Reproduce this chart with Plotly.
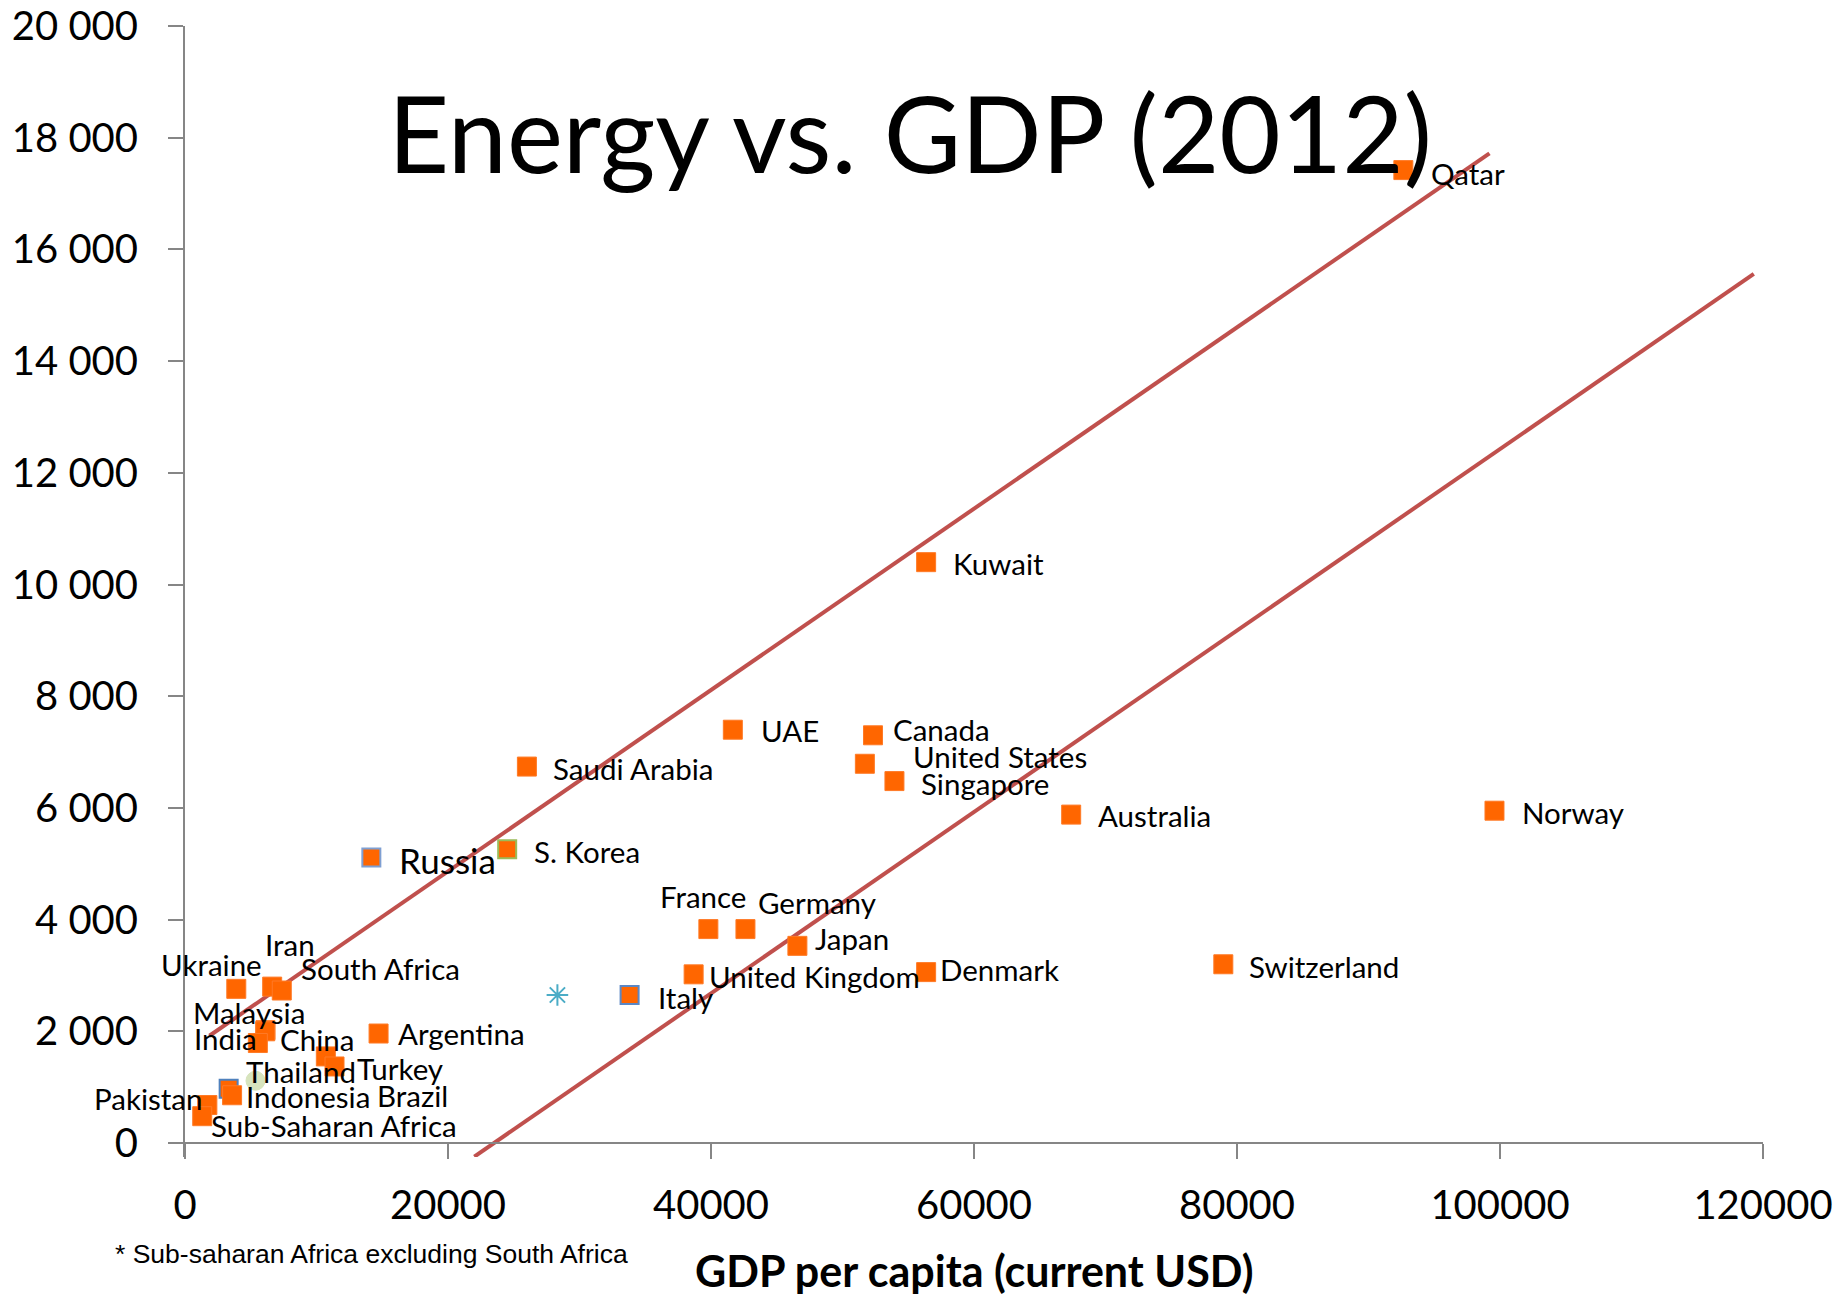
import plotly.graph_objects as go

# ---------------- data ----------------
countries = ["Qatar", "Kuwait", "UAE", "Canada", "United States", "Singapore",
             "Saudi Arabia", "Australia", "Norway", "Russia", "S. Korea",
             "France", "Germany", "Japan", "United Kingdom", "Denmark",
             "Switzerland", "Italy", "Ukraine", "Iran", "South Africa",
             "Malaysia", "China", "India", "Argentina", "Turkey", "Brazil",
             "Thailand", "Indonesia", "Pakistan", "Sub-Saharan Africa"]
gdp_per_capita = [92650, 56360, 41660, 52320, 51700, 53950,
                  26000, 67390, 99580, 14170, 24500,
                  39800, 42620, 46570, 38680, 56360,
                  78960, 33810, 3900, 6630, 7360,
                  6120, 6100, 5540, 14720, 10710, 11370,
                  5360, 3580, 1700, 1310]
energy_per_capita = [17420, 10400, 7400, 7300, 6790, 6480,
                     6740, 5880, 5950, 5110, 5260,
                     3830, 3830, 3530, 3020, 3060,
                     3200, 2650, 2760, 2800, 2730,
                     2020, 2000, 1790, 1960, 1550, 1370,
                     1115, 855, 680, 480]

# unlabeled extra series
other_gdp = [3320]
other_energy = [970]
avg_gdp = [28320]
avg_energy = [2650]

# trend lines
upper_x = [1860, 99200]
upper_y = [1920, 17720]
lower_x = [22000, 119300]
lower_y = [-245, 15560]

x_ticks = [0, 20000, 40000, 60000, 80000, 100000, 120000]
y_ticks = [0, 2000, 4000, 6000, 8000, 10000, 12000, 14000, 16000, 18000, 20000]

title_text = "Energy vs. GDP (2012)"
x_title = "GDP per capita (current USD)"
footnote = "* Sub-saharan Africa excluding South Africa"

# ---------------- styles ----------------
ORANGE = "#FF6600"
LINE_RED = "#C0504D"
AXIS_GREY = "#868686"
FONT = "Lato"

border_colors = {"Russia": "#7F9FD2", "Italy": "#5B87C4", "S. Korea": "#9BBB59"}
special_symbol = {"Thailand": ("circle", "#D7E4BD", "#D7E4BD")}

# label offsets (pixels from marker centre to label left / middle; +dy = down)
label_offsets = {
    "Qatar": (27, 3), "Kuwait": (26, 1), "UAE": (27, 1), "Canada": (19, -6),
    "United States": (47, -7), "Singapore": (26, 2), "Saudi Arabia": (25, 2),
    "Australia": (26, 1), "Norway": (27, 2), "Russia": (27, 2),
    "S. Korea": (26, 2), "France": (-49, -33), "Germany": (12, -27),
    "Japan": (17, -7), "United Kingdom": (14, 2), "Denmark": (13, -3),
    "Switzerland": (25, 2), "Italy": (27, 2), "Ukraine": (-76, -24),
    "Iran": (-8, -42), "South Africa": (18, -22), "Malaysia": (-73, -18),
    "China": (14, 8), "India": (-65, -5), "Argentina": (18, 0),
    "Turkey": (30, 12), "Brazil": (41, 29), "Thailand": (-10, -9),
    "Indonesia": (13, 1), "Pakistan": (-114, -7), "Sub-Saharan Africa": (8, 9),
}
label_sizes = {"Russia": 35}

fig = go.Figure()

# trend lines
fig.add_trace(go.Scatter(x=upper_x, y=upper_y, mode="lines",
                         line=dict(color=LINE_RED, width=4),
                         hoverinfo="skip", showlegend=False))
fig.add_trace(go.Scatter(x=lower_x, y=lower_y, mode="lines",
                         line=dict(color=LINE_RED, width=4),
                         hoverinfo="skip", showlegend=False))

# unlabeled blue-bordered square (beneath Indonesia)
fig.add_trace(go.Scatter(x=other_gdp, y=other_energy, mode="markers",
                         marker=dict(symbol="square", size=18, color=ORANGE, opacity=1,
                                     line=dict(color="#4F81BD", width=2)),
                         showlegend=False, cliponaxis=False))
# asterisk marker
fig.add_trace(go.Scatter(x=avg_gdp, y=avg_energy, mode="markers",
                         marker=dict(symbol="asterisk-open", size=18, color="#4BACC6", opacity=1,
                                     line=dict(color="#4BACC6", width=2)),
                         showlegend=False))

symbols, fills, lcols, lwids, sizes = [], [], [], [], []
for c in countries:
    if c in special_symbol:
        s, f, l = special_symbol[c]
        symbols.append(s); fills.append(f); lcols.append(l); lwids.append(1); sizes.append(19)
    elif c in border_colors:
        symbols.append("square"); fills.append(ORANGE); lcols.append(border_colors[c]); lwids.append(2); sizes.append(18)
    else:
        symbols.append("square"); fills.append(ORANGE); lcols.append("#FF7A26"); lwids.append(1); sizes.append(19)

# draw Thailand first (under others)
order = sorted(range(len(countries)), key=lambda i: 0 if countries[i] == "Thailand" else 1)
fig.add_trace(go.Scatter(
    x=[gdp_per_capita[i] for i in order],
    y=[energy_per_capita[i] for i in order],
    mode="markers",
    marker=dict(symbol=[symbols[i] for i in order], size=[sizes[i] for i in order],
                color=[fills[i] for i in order], opacity=1,
                line=dict(color=[lcols[i] for i in order], width=[lwids[i] for i in order])),
    text=[countries[i] for i in order], hoverinfo="text",
    showlegend=False, cliponaxis=False))

annotations = []
for c, gx, ey in zip(countries, gdp_per_capita, energy_per_capita):
    dx, dy = label_offsets[c]
    annotations.append(dict(x=gx, y=ey, xref="x", yref="y", text=c,
                            showarrow=False, xanchor="left", yanchor="middle",
                            xshift=dx, yshift=-dy, borderpad=0,
                            font=dict(family=FONT, size=label_sizes.get(c, 29.5), color="#000000")))

# title
annotations.append(dict(x=0.4594, y=0.906, xref="paper", yref="paper", text=title_text,
                        showarrow=False, xanchor="center", yanchor="middle",
                        font=dict(family=FONT, size=106, color="#000000")))
# x axis title
annotations.append(dict(x=0.5, y=-0.1, xref="paper", yref="paper", text="<b>" + x_title + "</b>",
                        showarrow=False, xanchor="center", yanchor="middle",
                        font=dict(family=FONT, size=43, color="#000000")))
# footnote
annotations.append(dict(x=-0.0456, y=-0.086, xref="paper", yref="paper", text=footnote,
                        showarrow=False, xanchor="left", yanchor="middle",
                        font=dict(family="Liberation Sans", size=26.5, color="#000000")))

fig.update_layout(
    width=1848, height=1297,
    margin=dict(l=185, r=85, t=26, b=140, pad=0, autoexpand=False),
    paper_bgcolor="white", plot_bgcolor="white",
    separators=". ",
    annotations=annotations,
    showlegend=False,
    font=dict(family=FONT, color="#000000"),
)
fig.update_xaxes(range=[0, 120000], tickvals=x_ticks, tickformat="d", automargin=False,
                 showgrid=False, zeroline=False,
                 showline=True, linecolor=AXIS_GREY, linewidth=2,
                 ticks="outside", ticklen=15, tickwidth=2, tickcolor=AXIS_GREY,
                 tickfont=dict(family=FONT, size=40, color="#000000"),
                 anchor="free", position=14 / 1131, ticklabelstandoff=12)
fig.update_yaxes(range=[-250.7, 20000], tickvals=y_ticks, tickformat=",d", automargin=False,
                 showgrid=False, zeroline=False,
                 showline=True, linecolor=AXIS_GREY, linewidth=2,
                 ticks="outside", ticklen=15, tickwidth=2, tickcolor=AXIS_GREY,
                 tickfont=dict(family=FONT, size=40, color="#000000"),
                 ticklabelstandoff=22)

fig.write_html("out.html")
